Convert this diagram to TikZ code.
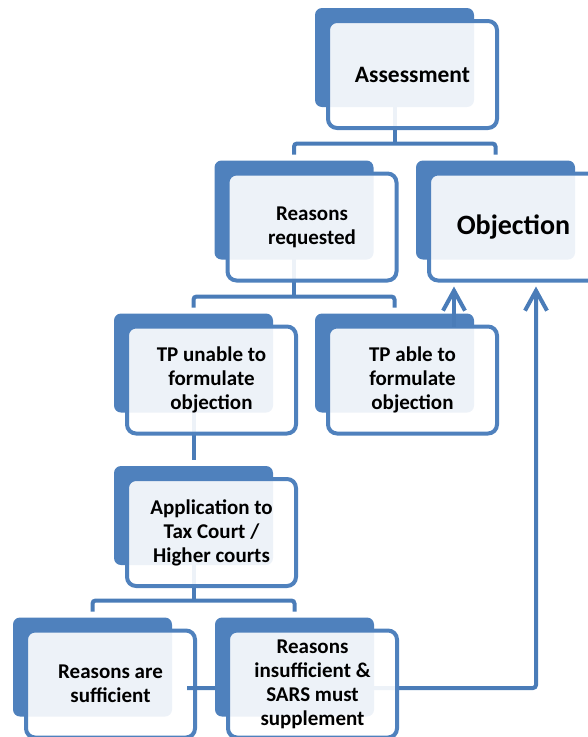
\documentclass[tikz,border=0pt]{standalone}
\usepackage{fontspec}
\setmainfont{Carlito}
\usetikzlibrary{arrows.meta,backgrounds}
\definecolor{accent}{HTML}{4F81BD}
\definecolor{linkblue}{HTML}{4A7CB8}
\tikzset{
  front/.style={rectangle, rounded corners=9pt, draw=accent, line width=4pt,
    fill=white, fill opacity=0.9, text opacity=1, outer sep=0pt, inner sep=0pt,
    minimum width=169pt, minimum height=107pt, align=center,
    font=\bfseries\fontsize{21}{24}\selectfont},
  back/.style={fill=accent, rounded corners=7pt},
  conn/.style={draw=linkblue, line width=4pt, rounded corners=3pt},
  arr/.style={conn, -{Straight Barb[length=20pt,width=22pt]}},
}
\newcommand{\unitnode}[4][]{%
  \fill[back, shift={(#3)}] (-97.5,-66.5) rectangle ++(159,99);
  \path[shift={(#3)}] (-18,0) coordinate (#2-out) (-18,-72.5) coordinate (#2-in);
  \node[front,#1] (#2) at (#3) {#4};}
\begin{document}
\begin{tikzpicture}[x=1pt,y=-1pt]
  \useasboundingbox (0,0) rectangle (587,737);
  \unitnode[font=\bfseries\fontsize{23.5}{26}\selectfont]{ass}{412.5,74.5}{Assessment}
  \unitnode{req}{312,227}{Reasons\\requested}
  \unitnode[font=\bfseries\fontsize{28}{32}\selectfont]{obj}{513.5,227}{Objection}
  \unitnode{unab}{211.5,380}{TP unable to\\formulate\\objection}
  \unitnode{able}{412.5,380}{TP able to\\formulate\\objection}
  \unitnode{app}{211.5,532.5}{Application to\\Tax Court /\\Higher courts}
  \unitnode{suff}{110.5,684}{Reasons are\\sufficient}
  \coordinate (tip1) at ([shift={(-59.5,6)}]obj.south);
  \coordinate (tip2) at ([shift={(22.5,6)}]obj.south);
  \draw[arr] (able.north -| tip1) -- (tip1);
  \draw[arr] ([shift={(-8,4)}]suff.east) -| (tip2);
  \unitnode{insuf}{312.5,684}{Reasons\\insufficient \&\\SARS must\\supplement}
  \begin{scope}[on background layer]
    \draw[conn] (ass-out) -- ++(0,69);
    \draw[conn] (req-in) -- ++(0,-11) -| (obj-in);
    \draw[conn] (req-out) -- ++(0,69);
    \draw[conn] (unab-in) -- ++(0,-11) -| (able-in);
    \draw[conn] (unab-out) -- (app-in);
    \draw[conn] (app-out) -- ++(0,69);
    \draw[conn] (suff-in) -- ++(0,-11) -| (insuf-in);
  \end{scope}
\end{tikzpicture}
\end{document}
